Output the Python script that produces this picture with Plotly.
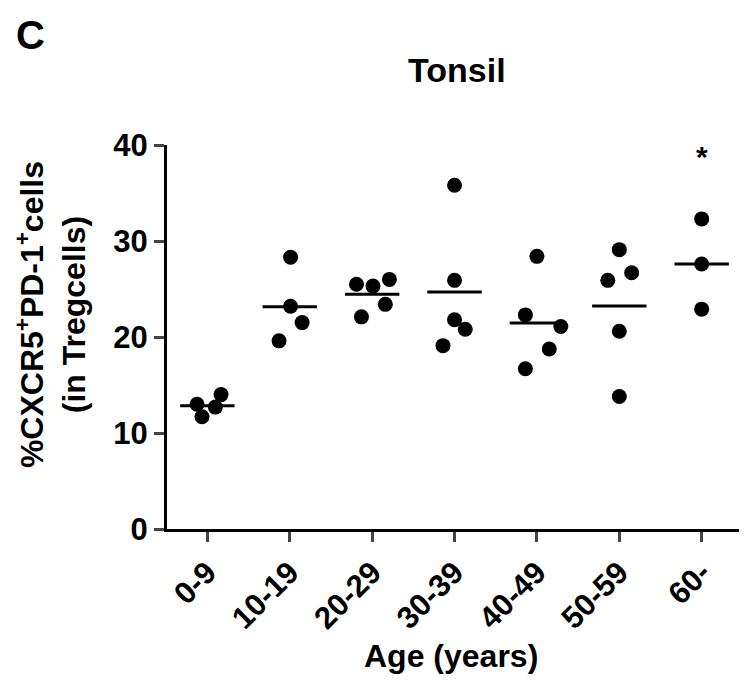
import numpy as np
import plotly.graph_objects as go

categories = ["0-9", "10-19", "20-29", "30-39", "40-49", "50-59", "60-"]
values = [
    [13.0, 11.7, 12.7, 14.0],
    [28.3, 23.2, 21.5, 19.6],
    [25.5, 25.3, 26.0, 23.4, 22.1],
    [35.8, 25.9, 21.8, 20.8, 19.1],
    [28.4, 22.3, 21.1, 18.75, 16.7],
    [29.1, 26.7, 25.9, 20.6, 13.8],
    [32.3, 27.6, 22.9],
]
jitter = [
    [-0.125, -0.065, 0.097, 0.166],
    [0.01, 0.01, 0.15, -0.13],
    [-0.19, 0.01, 0.21, 0.16, -0.13],
    [0.0, 0.0, 0.0, 0.13, -0.14],
    [0.0, -0.14, 0.29, 0.15, -0.14],
    [0.0, 0.15, -0.14, 0.0, 0.0],
    [0.0, 0.0, 0.0],
]
yticks = [0, 10, 20, 30, 40]
star_group = "60-"
star_y = 38.8

FONT = "Liberation Sans, Arial, sans-serif"

fig = go.Figure()
xs, ys = [], []
for i, (vals, jit) in enumerate(zip(values, jitter)):
    xs += [i + j for j in jit]
    ys += vals
fig.add_trace(go.Scatter(x=xs, y=ys, mode="markers",
                         marker=dict(size=15, color="black"),
                         showlegend=False, cliponaxis=False))

mx, my = [], []
for i, vals in enumerate(values):
    m = float(np.mean(vals))
    mx += [i - 0.33, i + 0.33, None]
    my += [m, m, None]
fig.add_trace(go.Scatter(x=mx, y=my, mode="lines",
                         line=dict(color="black", width=3),
                         showlegend=False))

ann = dict(showarrow=False, xanchor="center", yanchor="middle")
fig.update_layout(
    width=739, height=673,
    margin=dict(l=159, r=0, t=137, b=152, autoexpand=False),
    paper_bgcolor="white", plot_bgcolor="white",
    font=dict(family=FONT, color="black"),
    xaxis=dict(range=[-0.49, 6.55], tickmode="array",
               tickvals=list(range(len(categories))), ticktext=[f"<b>{c}</b>" for c in categories],
               tickangle=-45, ticks="outside", ticklen=10, tickwidth=3,
               showline=True, linewidth=3, linecolor="black",
               showgrid=False, zeroline=False,
               tickfont=dict(size=31, family=FONT)),
    yaxis=dict(range=[0, 40], tickmode="array", tickvals=yticks,
               ticktext=[f"<b>{t}</b>" for t in yticks],
               ticks="outside", ticklen=10, tickwidth=3,
               showline=True, linewidth=3, linecolor="black",
               showgrid=False, zeroline=False,
               tickfont=dict(size=31, family=FONT)),
    annotations=[
        dict(text="<b>C</b>", xref="paper", yref="paper", x=-0.235, y=1.286,
             font=dict(size=40, family=FONT), **ann),
        dict(text="<b>Tonsil</b>", xref="paper", yref="paper", x=0.5, y=1.195,
             font=dict(size=34, family=FONT), **ann),
        dict(text="<b>Age (years)</b>", xref="paper", yref="paper", x=0.49, y=-0.331,
             font=dict(size=32, family=FONT), **ann),
        dict(text="<b>%CXCR5<sup>+</sup>PD-1<sup>+</sup>cells<br>(in Tregcells)</b>",
             xref="paper", yref="paper", x=-0.2, y=0.557, textangle=-90,
             font=dict(size=32, family=FONT), **ann),
        dict(text="<b>*</b>", xref="x", yref="y", x=categories.index(star_group), y=star_y,
             font=dict(size=30, family=FONT), **ann),
    ],
)
fig.write_html("out.html")
